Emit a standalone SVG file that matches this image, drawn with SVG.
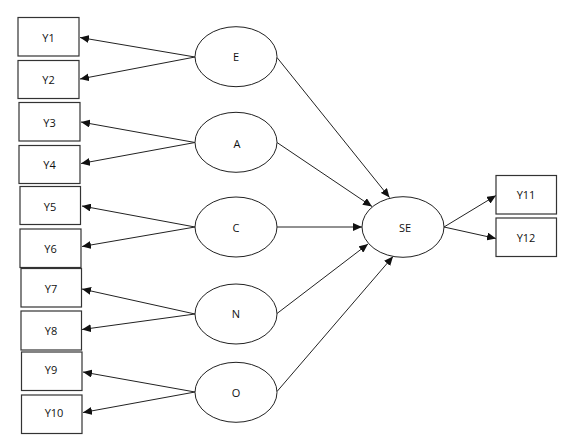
<svg xmlns="http://www.w3.org/2000/svg" width="561" height="442" viewBox="0 0 561 442">
<style>
.box{fill:#fff;stroke:#333;stroke-width:1.2}
.ell{fill:#fff;stroke:#222;stroke-width:1}
.t{font-family:"Open Sans","Noto Sans",sans-serif;font-size:11px;fill:#111;text-anchor:middle;dominant-baseline:central}
.c{stroke:#222;stroke-width:1;fill:none;marker-end:url(#ah)}
</style>
<defs>
<marker id="ah" markerUnits="userSpaceOnUse" markerWidth="10" markerHeight="8" refX="9" refY="4" orient="auto">
<path d="M0,0 L9,4 L0,8 z" fill="#111"/>
</marker>
</defs>
<rect width="561" height="442" fill="#fff"/>
<g id="connectors">
<line class="c" x1="195" y1="57" x2="80" y2="37.5"/>
<line class="c" x1="195" y1="57" x2="80" y2="79"/>
<line class="c" x1="195" y1="142.5" x2="81" y2="122"/>
<line class="c" x1="195" y1="142.5" x2="81" y2="163.5"/>
<line class="c" x1="195" y1="227" x2="82" y2="206"/>
<line class="c" x1="195" y1="227" x2="82" y2="246.5"/>
<line class="c" x1="195" y1="314" x2="82" y2="289"/>
<line class="c" x1="195" y1="314" x2="82" y2="329.5"/>
<line class="c" x1="195" y1="392" x2="83" y2="372"/>
<line class="c" x1="195" y1="392" x2="83" y2="412.5"/>
<line class="c" x1="277" y1="57.5" x2="389.5" y2="197.5"/>
<line class="c" x1="277" y1="142.5" x2="372" y2="206.5"/>
<line class="c" x1="277" y1="227" x2="362" y2="227"/>
<line class="c" x1="277" y1="313.5" x2="368" y2="244"/>
<line class="c" x1="277" y1="391.5" x2="393" y2="256.5"/>
<line class="c" x1="444" y1="227" x2="496" y2="195.5"/>
<line class="c" x1="444" y1="227" x2="496" y2="238.5"/>
</g>
<g id="Y1"><rect class="box" x="18" y="17.5" width="61" height="38.5"/><text class="t" x="48.5" y="37">Y1</text></g>
<g id="Y2"><rect class="box" x="18" y="60.5" width="61" height="38"/><text class="t" x="48.5" y="79.5">Y2</text></g>
<g id="Y3"><rect class="box" x="19" y="102.5" width="61" height="38.5"/><text class="t" x="49.5" y="122">Y3</text></g>
<g id="Y4"><rect class="box" x="19" y="145.5" width="61" height="38"/><text class="t" x="49.5" y="164">Y4</text></g>
<g id="Y5"><rect class="box" x="20" y="186.5" width="60.5" height="38"/><text class="t" x="50" y="206">Y5</text></g>
<g id="Y6"><rect class="box" x="20" y="229" width="61" height="38.5"/><text class="t" x="50.5" y="248">Y6</text></g>
<g id="Y7"><rect class="box" x="21" y="268.5" width="60.5" height="38.5"/><text class="t" x="51" y="288">Y7</text></g>
<g id="Y8"><rect class="box" x="21" y="311" width="60.5" height="39"/><text class="t" x="51" y="330">Y8</text></g>
<g id="Y9"><rect class="box" x="21.5" y="352" width="60.5" height="38.5"/><text class="t" x="51" y="369">Y9</text></g>
<g id="Y10"><rect class="box" x="21.5" y="395" width="60.5" height="38.5"/><text class="t" x="54" y="412">Y10</text></g>
<g id="Y11"><rect class="box" x="496" y="175.5" width="60.5" height="38.5"/><text class="t" x="526" y="194.5">Y11</text></g>
<g id="Y12"><rect class="box" x="496" y="218" width="60.5" height="38.5"/><text class="t" x="526" y="237.5">Y12</text></g>
<g id="E"><ellipse class="ell" cx="236" cy="56.7" rx="41" ry="30"/><text class="t" x="236" y="56">E</text></g>
<g id="A"><ellipse class="ell" cx="236" cy="142.3" rx="41" ry="30"/><text class="t" x="237" y="143">A</text></g>
<g id="C"><ellipse class="ell" cx="236" cy="227" rx="41" ry="30"/><text class="t" x="236" y="227">C</text></g>
<g id="N"><ellipse class="ell" cx="236" cy="314" rx="41" ry="30"/><text class="t" x="236" y="313">N</text></g>
<g id="O"><ellipse class="ell" cx="236" cy="392.3" rx="41" ry="30"/><text class="t" x="236" y="392">O</text></g>
<g id="SE"><ellipse class="ell" cx="403" cy="227" rx="41" ry="30.3"/><text class="t" x="405" y="227">SE</text></g>
</svg>
